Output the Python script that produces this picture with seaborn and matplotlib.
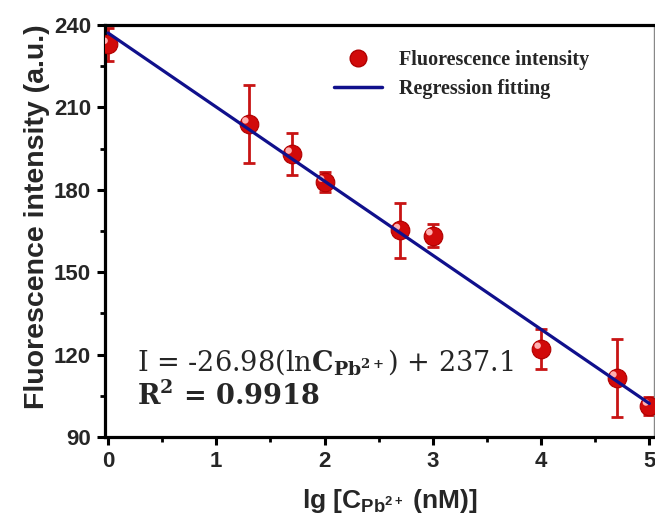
import numpy as np
import pandas as pd
import matplotlib
matplotlib.use("Agg")
import matplotlib.pyplot as plt
import matplotlib.transforms as mtrans
from matplotlib.lines import Line2D
from matplotlib.ticker import MultipleLocator
import seaborn as sns

# ---- data ----
lg_conc = [0.0, 1.3, 1.7, 2.0, 2.7, 3.0, 4.0, 4.7, 5.0]
intensity = [233.0, 204.0, 193.0, 182.8, 165.2, 163.3, 122.0, 111.5, 101.3]
err = [6.0, 14.3, 7.6, 3.7, 10.0, 4.2, 7.3, 14.2, 3.2]
fit_slope = -26.98
fit_intercept = 237.1
fit_range = [0.0, 5.0]
x_ticks = [0, 1, 2, 3, 4, 5]
y_ticks = [90, 120, 150, 180, 210, 240]

sns.set_theme(style="ticks")
plt.rcParams["font.family"] = ["Liberation Sans", "DejaVu Sans"]
plt.rcParams["mathtext.fontset"] = "custom"
plt.rcParams["mathtext.rm"] = "DejaVu Serif"
plt.rcParams["mathtext.bf"] = "DejaVu Serif:bold"
plt.rcParams["mathtext.it"] = "DejaVu Serif:italic"
plt.rcParams["mathtext.sf"] = "Liberation Sans:bold"

fig = plt.figure(figsize=(6.55, 5.25), dpi=100)
ax = fig.add_axes([0.160, 0.1676, 0.838, 0.7848])

df = pd.DataFrame({"x": lg_conc, "y": intensity, "e": err})
fit_df = pd.DataFrame({"x": fit_range,
                       "y": [fit_slope * v + fit_intercept for v in fit_range]})

red = "#d10a0a"
blue = "#10108c"

ax.errorbar(df["x"], df["y"], yerr=df["e"], fmt="none", ecolor="#c81414",
            elinewidth=2.0, capsize=4, capthick=2.0, zorder=2)
sns.lineplot(data=fit_df, x="x", y="y", ax=ax, color=blue, linewidth=2.3,
             zorder=4)
sns.scatterplot(data=df, x="x", y="y", ax=ax, color=red, s=180,
                edgecolor="#b00000", linewidth=0.8, zorder=3)
hl = mtrans.offset_copy(ax.transData, fig=fig, x=-2.5, y=2.5, units="points")
ax.scatter(df["x"], df["y"], s=22, color="#ffb0b0", edgecolor="none",
           transform=hl, zorder=3.5)

ax.set_xlim(-0.03, 5.04)
ax.set_ylim(90, 240)
ax.set_xticks(x_ticks)
ax.set_yticks(y_ticks)
ax.xaxis.set_minor_locator(MultipleLocator(0.5))
ax.yaxis.set_minor_locator(MultipleLocator(15))
ax.tick_params(which="major", direction="out", length=6, width=2.2,
               labelsize=16, color="black", pad=4)
ax.tick_params(which="minor", direction="out", length=3.5, width=2.0,
               color="black")
for lab in ax.get_xticklabels() + ax.get_yticklabels():
    lab.set_fontweight("bold")

for side in ["left", "bottom", "top"]:
    ax.spines[side].set_linewidth(2.3)
    ax.spines[side].set_color("black")
ax.spines["right"].set_linewidth(1.0)
ax.spines["right"].set_color("#888888")

ax.set_xlabel(r"lg [C$_{\mathsf{Pb^{2+}}}$ (nM)]", fontsize=19,
              fontweight="bold")
ax.set_ylabel("Fluorescence intensity (a.u.)", fontsize=20.5,
              fontweight="bold")
ax.xaxis.set_label_coords(0.52, -0.122)
ax.yaxis.set_label_coords(-0.100, 0.534)

ax.text(0.058, 0.182, "I = -26.98(ln" + r"$\mathbf{C_{Pb^{2+}}}$" + ") + 237.1",
        transform=ax.transAxes, fontsize=19.5, family="DejaVu Serif",
        va="center", ha="left")
ax.text(0.058, 0.098, "R" + r"$^{\mathbf{2}}$" + " = 0.9918",
        transform=ax.transAxes, fontsize=19.5, family="DejaVu Serif",
        fontweight="bold", va="center", ha="left")

handles = [
    Line2D([], [], linestyle="none", marker="o", markersize=12,
           markerfacecolor=red, markeredgecolor="#b00000"),
    Line2D([], [], color=blue, linewidth=2.5),
]
leg = fig.legend(handles, ["Fluorescence intensity", "Regression fitting"],
                 loc="upper left", bbox_to_anchor=(334 / 655, 1 - 50 / 525),
                 frameon=False, handlelength=2.4, handletextpad=0.85,
                 labelspacing=0.45, borderpad=0, borderaxespad=0,
                 prop={"family": "Liberation Serif", "weight": "bold",
                       "size": 14.5})

fig.savefig("out.png", dpi=100)
